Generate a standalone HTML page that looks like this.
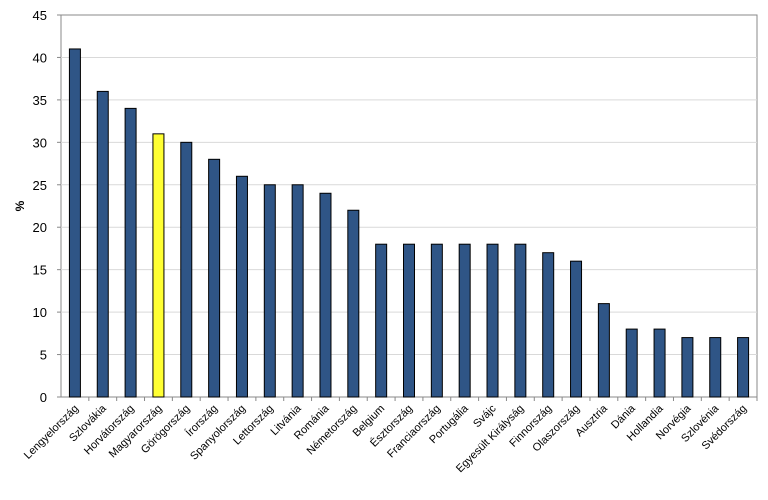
<!DOCTYPE html>
<html><head><meta charset="utf-8"><style>
body{margin:0;background:#fff;font-family:"Liberation Sans",Arial,sans-serif}
</style></head><body>
<svg id="chart" width="768" height="495" xmlns="http://www.w3.org/2000/svg"></svg>
<script>
const categories=["Lengyelország","Szlovákia","Horvátország","Magyarország","Görögország","Írország","Spanyolország","Lettország","Litvánia","Románia","Németország","Belgium","Észtország","Franciaország","Portugália","Svájc","Egyesült Királyság","Finnország","Olaszország","Ausztria","Dánia","Hollandia","Norvégia","Szlovénia","Svédország"];
const values=[41,36,34,31,30,28,26,25,25,24,22,18,18,18,18,18,18,17,16,11,8,8,7,7,7];
const highlight=["Magyarország"];
const yTicks=[0,5,10,15,20,25,30,35,40,45];
const NS="http://www.w3.org/2000/svg";
const svg=document.getElementById('chart');
const L=61,R=757,T=15,B=397,yMax=45;
const y=v=>B-(v/yMax)*(B-T);
const step=(R-L)/categories.length;
const x=i=>L+step*(i+0.5);
function mk(t,a){const e=document.createElementNS(NS,t);for(const k in a)e.setAttribute(k,a[k]);svg.appendChild(e);return e;}
const frame=mk('rect',{x:L,y:T,width:R-L,height:B-T,fill:'none',stroke:'#888','stroke-width':1});


yTicks.forEach(v=>{
  if(v>0&&v<yMax){const g=mk('line',{x1:L,x2:R,y1:y(v),y2:y(v),stroke:'#d9d9d9'});
  
  }
  const t=mk('text',{x:L-14,y:y(v)+5,'text-anchor':'end','font-size':13,fill:'#000'});
  t.textContent=v;
  
  
  const tk=mk('line',{x1:L-4,x2:L,y1:y(v),y2:y(v),stroke:'#888'});
  
  
});
mk('line',{x1:L,x2:R,y1:B,y2:B,stroke:'#888'});
categories.forEach((c,i)=>{
  const bw=11;
  const b=mk('rect',{x:x(i)-bw/2,y:y(values[i]),width:bw,height:B-y(values[i]),fill:highlight.includes(c)?'#ffff33':'#2f5586',stroke:'#000','stroke-width':1});
  
  
  const tk=mk('line',{x1:L+step*(i+1),x2:L+step*(i+1),y1:B,y2:B+4,stroke:'#888'});
  
  
  const t=mk('text',{x:x(i)+4,y:B+12,'text-anchor':'end','font-size':11,fill:'#000',transform:`rotate(-45 ${x(i)+4} ${B+12})`});
  t.textContent=c;
  
  
});
const yl=mk('text',{x:24,y:206,'text-anchor':'middle','font-size':12,'font-weight':'bold',transform:'rotate(-90 24 206)'});
yl.textContent='%';


</script>
</body></html>
